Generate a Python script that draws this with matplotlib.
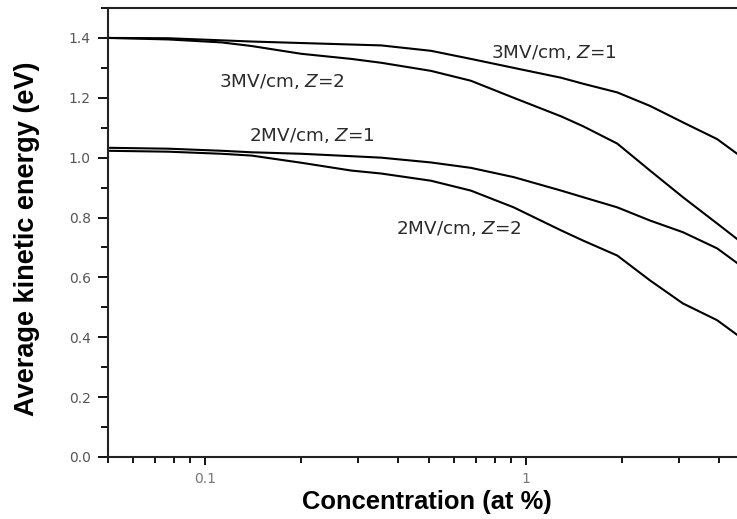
import matplotlib
matplotlib.use("Agg")
import matplotlib.pyplot as plt
from matplotlib.ticker import LogLocator, FixedLocator, FixedFormatter, MultipleLocator, FormatStrFormatter, NullFormatter

# Dopant concentration (at %)
concentration = [0.05, 0.077, 0.113, 0.14, 0.2, 0.286, 0.355, 0.507, 0.675,
                 0.918, 1.29, 1.51, 1.93, 2.44, 3.09, 3.95, 4.6]

# Average kinetic energy (eV) for each field / charge state
e_3mv_z1 = [1.400, 1.399, 1.392, 1.388, 1.383, 1.378, 1.375, 1.357, 1.330,
            1.300, 1.267, 1.247, 1.218, 1.173, 1.118, 1.062, 1.010]
e_3mv_z2 = [1.400, 1.395, 1.385, 1.373, 1.347, 1.330, 1.317, 1.290, 1.257,
            1.200, 1.138, 1.105, 1.047, 0.957, 0.868, 0.780, 0.725]
e_2mv_z1 = [1.033, 1.030, 1.023, 1.018, 1.013, 1.005, 1.000, 0.984, 0.966,
            0.935, 0.890, 0.868, 0.834, 0.790, 0.751, 0.697, 0.645]
e_2mv_z2 = [1.023, 1.020, 1.013, 1.007, 0.983, 0.957, 0.947, 0.923, 0.890,
            0.834, 0.757, 0.723, 0.673, 0.590, 0.513, 0.457, 0.405]

series = [e_3mv_z1, e_3mv_z2, e_2mv_z1, e_2mv_z2]
labels = ["3MV/cm, $Z$=1", "3MV/cm, $Z$=2", "2MV/cm, $Z$=1", "2MV/cm, $Z$=2"]
label_xy = [(0.778, 1.350), (0.1105, 1.253), (0.137, 1.073), (0.395, 0.763)]

y_ticks = [0.0, 0.2, 0.4, 0.6, 0.8, 1.0, 1.2, 1.4]
x_ticks = [0.1, 1]
x_tick_labels = ["0.1", "1"]

W, H = 737, 519
fig = plt.figure(figsize=(W / 100, H / 100), dpi=100)
ax = fig.add_axes([108 / W, 62 / H, 642 / W, 449 / H])

for s in series:
    ax.plot(concentration, s, color="black", lw=1.5)

for text, (x, y) in zip(labels, label_xy):
    ax.text(x, y, text, ha="left", va="center", fontsize=13.2,
            color="#2a2a2a", family="DejaVu Sans")

ax.set_xscale("log")
ax.set_xlim(0.05, 5)
ax.set_ylim(0, 1.5)

ax.xaxis.set_major_locator(FixedLocator(x_ticks))
ax.xaxis.set_major_formatter(FixedFormatter(x_tick_labels))
ax.xaxis.set_minor_locator(LogLocator(base=10, subs=range(2, 10)))
ax.xaxis.set_minor_formatter(NullFormatter())

ax.yaxis.set_major_locator(FixedLocator(y_ticks))
ax.yaxis.set_major_formatter(FormatStrFormatter("%.1f"))
ax.yaxis.set_minor_locator(MultipleLocator(0.1))

for sp in ax.spines.values():
    sp.set_linewidth(1.5)
    sp.set_color("#222222")

ax.tick_params(axis="y", which="major", direction="out", length=7.5, width=1.3,
               pad=5, labelsize=10, labelcolor="#555555")
ax.tick_params(axis="y", which="minor", direction="out", length=5, width=1.3)
ax.tick_params(axis="x", which="major", direction="out", length=6, width=1.3,
               pad=4.5, labelsize=10, labelcolor="#777777")
ax.tick_params(axis="x", which="minor", direction="out", length=4, width=1.3)

fig.text(427 / W, 1 - 502 / H, "Concentration (at %)", ha="center", va="center",
         fontsize=18.4, fontweight="bold", family="Liberation Sans")
fig.text(27 / W, 1 - 239 / H, "Average kinetic energy (eV)", ha="center", va="center",
         rotation=90, fontsize=19.5, fontweight="bold", family="Liberation Sans")

fig.savefig("out.png", dpi=100)
